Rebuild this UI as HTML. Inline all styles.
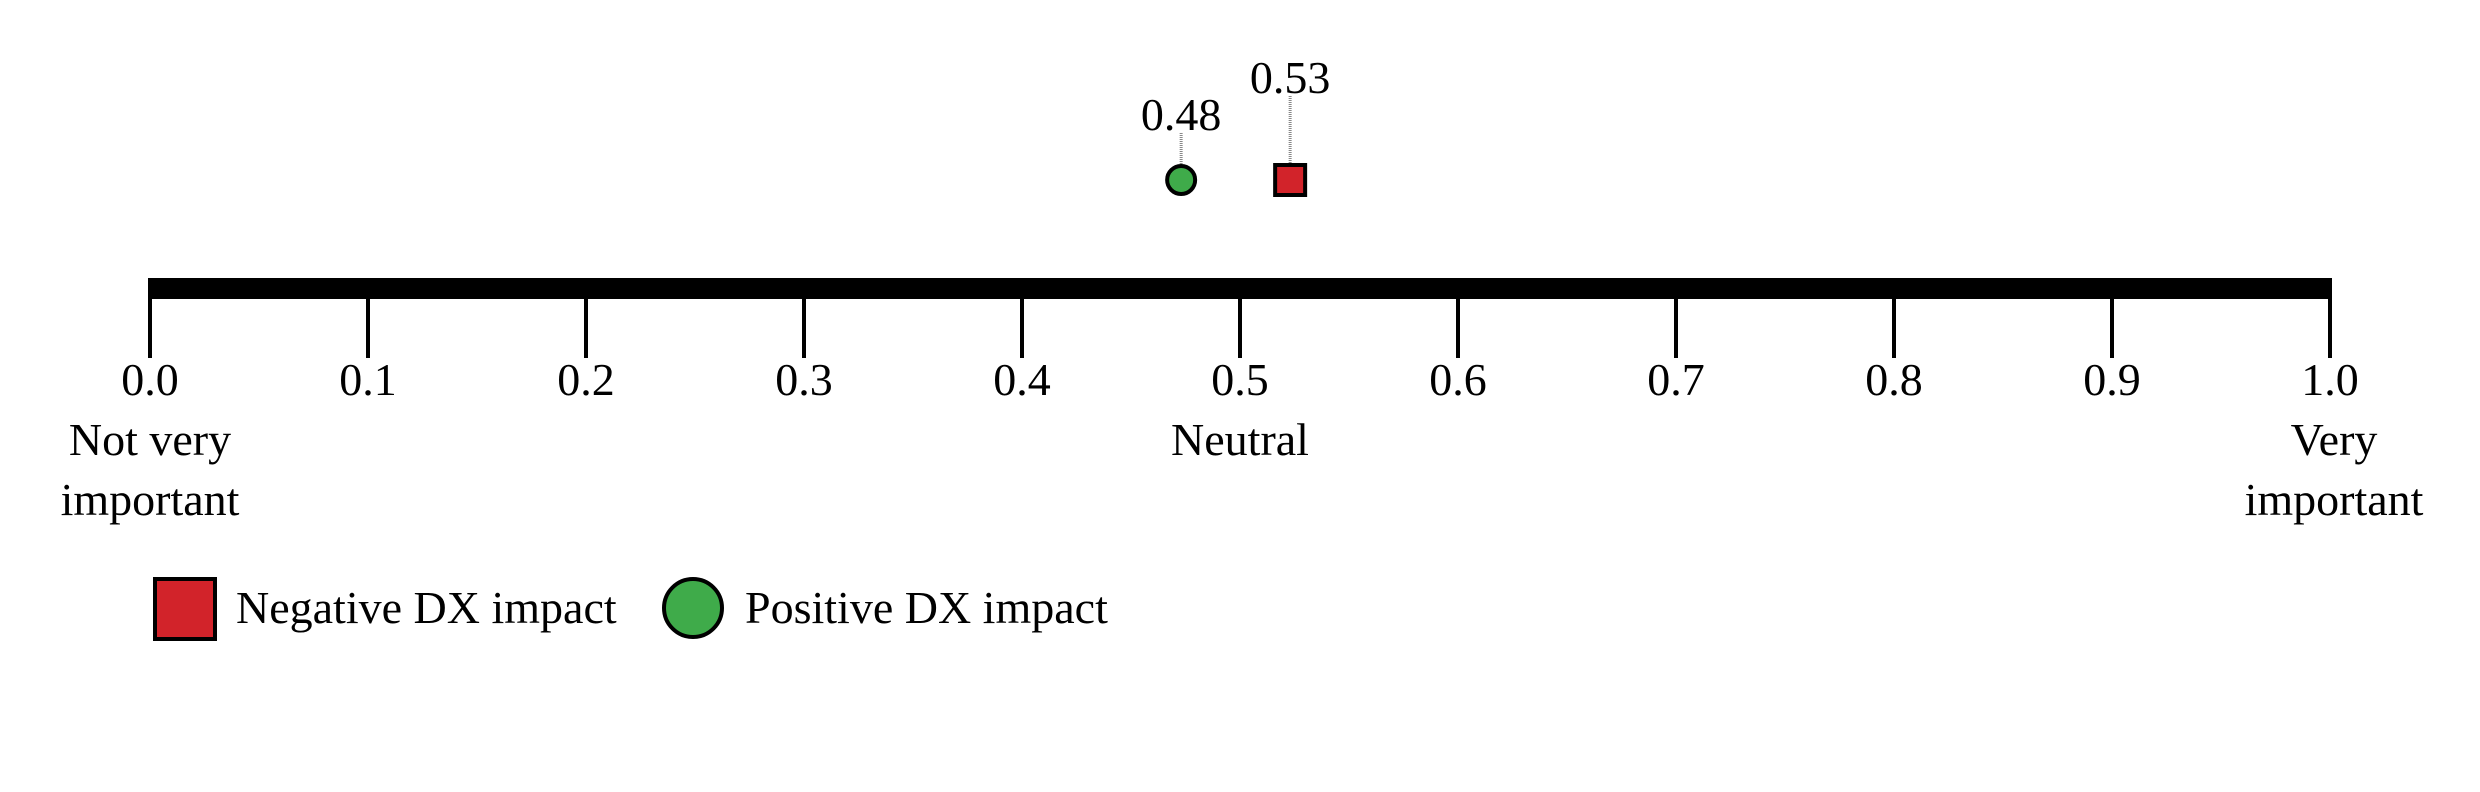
<!DOCTYPE html>
<html><head><meta charset="utf-8"><style>
html,body{margin:0;padding:0;background:#fff;}
svg{display:block;font-family:"Liberation Serif",serif;}
</style></head><body>
<svg id="chart" width="2480" height="792" viewBox="0 0 2480 792">
<rect x="148" y="278" width="2184" height="21" fill="#000"/>
<g id="ticks"></g>
<g id="marks"></g>
<text x="150" y="455" font-size="46" text-anchor="middle"><tspan x="150">Not very</tspan><tspan x="150" dy="60">important</tspan></text>
<text x="1240" y="455" font-size="46" text-anchor="middle">Neutral</text>
<text x="2334" y="455" font-size="46" text-anchor="middle"><tspan x="2334">Very</tspan><tspan x="2334" dy="60">important</tspan></text>
<g>
<rect x="155" y="579" width="60" height="60" fill="#d2232a" stroke="#000" stroke-width="4"/>
<text x="236" y="623" font-size="46">Negative DX impact</text>
<circle cx="693" cy="608" r="29" fill="#3fab4a" stroke="#000" stroke-width="4"/>
<text x="745" y="623" font-size="46">Positive DX impact</text>
</g>
</svg>
<script>
const tickValues = [0,0.1,0.2,0.3,0.4,0.5,0.6,0.7,0.8,0.9,1.0];
const tickLabels = ["0.0","0.1","0.2","0.3","0.4","0.5","0.6","0.7","0.8","0.9","1.0"];
const seriesNames = ["Positive DX impact","Negative DX impact"];
const seriesValues = [0.473, 0.523];
const valueLabels = ["0.48","0.53"];
const NS="http://www.w3.org/2000/svg";
function xScale(v){return 150+v*2180;}
const ticksG=document.getElementById('ticks');
tickValues.forEach((v,i)=>{
  const l=document.createElementNS(NS,'rect');
  l.setAttribute('x',xScale(v)-2);l.setAttribute('y',290);l.setAttribute('width',4);l.setAttribute('height',68);
  
  
  ticksG.appendChild(l);
  const t=document.createElementNS(NS,'text');
  t.setAttribute('x',xScale(v));t.setAttribute('y',395);t.setAttribute('font-size','46');t.setAttribute('text-anchor','middle');
  t.textContent=tickLabels[i];
  
  
  ticksG.appendChild(t);
});
const marksG=document.getElementById('marks');
const labelY=[130,93];
seriesValues.forEach((v,i)=>{
  const x=xScale(v);
  const ln=document.createElementNS(NS,'line');
  ln.setAttribute('x1',x);ln.setAttribute('x2',x);ln.setAttribute('y1',labelY[i]+3);ln.setAttribute('y2',i===0?165:163);
  ln.setAttribute('stroke','#888');ln.setAttribute('stroke-width','3');ln.setAttribute('stroke-dasharray','1 1');
  
  
  marksG.appendChild(ln);
  let m;
  if(i===0){m=document.createElementNS(NS,'circle');m.setAttribute('cx',x);m.setAttribute('cy',180);m.setAttribute('r',14);m.setAttribute('fill','#3fab4a');}
  else{m=document.createElementNS(NS,'rect');m.setAttribute('x',x-15);m.setAttribute('y',165);m.setAttribute('width',30);m.setAttribute('height',30);m.setAttribute('fill','#d2232a');}
  m.setAttribute('stroke','#000');m.setAttribute('stroke-width','4');
  
  
  marksG.appendChild(m);
  const t=document.createElementNS(NS,'text');
  t.setAttribute('x',x);t.setAttribute('y',labelY[i]);t.setAttribute('font-size','46');t.setAttribute('text-anchor','middle');
  t.textContent=valueLabels[i];
  
  
  marksG.appendChild(t);
});
</script>
</body></html>
